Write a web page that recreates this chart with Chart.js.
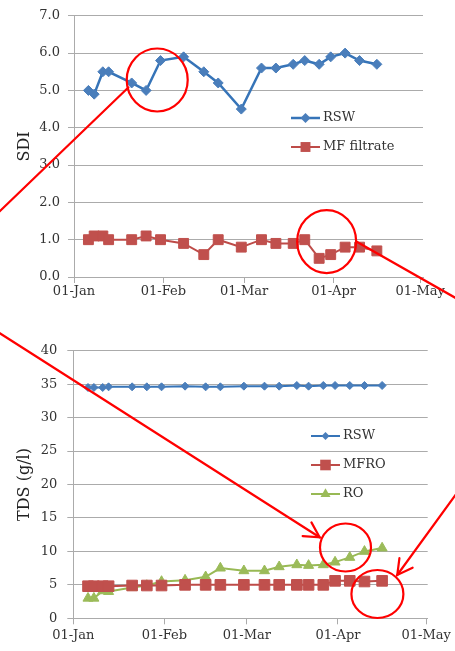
<!DOCTYPE html>
<html><head><meta charset="utf-8">
<script src="https://cdn.jsdelivr.net/npm/chart.js@4"></script>
<style>
html,body{margin:0;padding:0;background:#fff;}
#wrap{position:relative;width:455px;height:651px;overflow:hidden;background:#fff;}
#c1{position:absolute;left:0;top:0;width:455px;height:310px;}
#c2{position:absolute;left:0;top:320px;width:455px;height:331px;}
#ov{position:absolute;left:0;top:0;width:455px;height:651px;pointer-events:none;}
</style></head><body>
<div id="wrap">
<canvas id="c1" width="455" height="310"></canvas>
<canvas id="c2" width="455" height="331"></canvas>
<canvas id="ov" width="455" height="651"></canvas>
</div>
<script>
// ---- data ----
const monthDays = [0, 31, 59, 90, 120];
const monthLabels = ['01-Jan', '01-Feb', '01-Mar', '01-Apr', '01-May'];
// sampling days (days after 01-Jan)
const sampleDays = [5, 7, 10, 12, 20, 25, 30, 38, 45, 50, 58, 65, 70, 76, 80, 85, 89, 94, 99, 105];

const sdiTicks = [0, 1, 2, 3, 4, 5, 6, 7];
const sdiTickLabels = ['0.0', '1.0', '2.0', '3.0', '4.0', '5.0', '6.0', '7.0'];
const sdiRSW = [5.0, 4.9, 5.5, 5.5, 5.2, 5.0, 5.8, 5.9, 5.5, 5.2, 4.5, 5.6, 5.6, 5.7, 5.8, 5.7, 5.9, 6.0, 5.8, 5.7];
const sdiMF = [1.0, 1.1, 1.1, 1.0, 1.0, 1.1, 1.0, 0.9, 0.6, 1.0, 0.8, 1.0, 0.9, 0.9, 1.0, 0.5, 0.6, 0.8, 0.8, 0.7];

const tdsTicks = [0, 5, 10, 15, 20, 25, 30, 35, 40];
const tdsTickLabels = ['0', '5', '10', '15', '20', '25', '30', '35', '40'];
const tdsRSW = [34.5, 34.5, 34.5, 34.6, 34.6, 34.6, 34.6, 34.7, 34.6, 34.6, 34.7, 34.7, 34.7, 34.8, 34.7, 34.8, 34.8, 34.8, 34.8, 34.8];
const tdsMFRO = [4.8, 4.8, 4.8, 4.8, 4.9, 4.9, 4.9, 5.0, 5.0, 5.0, 5.0, 5.0, 5.0, 5.0, 5.0, 5.0, 5.6, 5.6, 5.5, 5.6];
const tdsRO = [3.0, 3.0, 4.1, 4.0, 4.6, 4.9, 5.5, 5.7, 6.2, 7.5, 7.1, 7.1, 7.7, 8.0, 7.9, 8.0, 8.4, 9.1, 10.0, 10.5];

// annotation marks (in each chart's data coordinates)
const topEllipses = [{d: 28.85, v: 5.28}, {d: 87.6, v: 0.95}];
const topLines = [{from: [-26, 1.745], to: [18.83, 5.08]}, {from: [98.02, 0.943], to: [140, -0.9]}];
const botEllipses = [{d: 92.55, v: 10.58}, {d: 103.4, v: 3.63}];
const botArrows = [{from: [-26, 42.9], to: [83.75, 12.11]}, {from: [134, 20.9], to: [110.15, 6.47]}];

// ---- styles ----
const BLUE = '#4A7EBB', BLUE_LINE = '#3674B8', RED = '#C0504D', GREEN = '#9BBB59';
const GRID = '#ABABAB', TXT = '#333333';
Chart.defaults.font.family = "'DejaVu Serif', serif";
Chart.defaults.color = TXT;

function pts(vals) { return vals.map((v, i) => ({x: sampleDays[i], y: v})); }
function ds(label, vals, color, lineColor, style, r, bw) {
  return {label, data: pts(vals), borderColor: lineColor, backgroundColor: color,
    pointBackgroundColor: color, pointBorderColor: color, pointBorderWidth: 1,
    pointStyle: style, pointRadius: r, borderWidth: bw, tension: 0, fill: false};
}

function drawMarker(ctx, style, x, y, r, color) {
  ctx.save(); ctx.fillStyle = color; ctx.beginPath();
  if (style === 'rectRot') { ctx.moveTo(x - r, y); ctx.lineTo(x, y - r); ctx.lineTo(x + r, y); ctx.lineTo(x, y + r); }
  else if (style === 'rect') { const s = r * Math.SQRT1_2; ctx.rect(x - s, y - s, 2 * s, 2 * s); }
  else if (style === 'triangle') { ctx.moveTo(x, y - r); ctx.lineTo(x + r * 0.866, y + r * 0.5); ctx.lineTo(x - r * 0.866, y + r * 0.5); }
  ctx.closePath(); ctx.fill(); ctx.restore();
}

const legendPlugin = {
  id: 'customLegend',
  afterDraw(chart, args, opts) {
    const ctx = chart.ctx;
    chart.data.datasets.forEach((d, i) => {
      const y = opts.ys[i];
      ctx.save();
      ctx.strokeStyle = d.borderColor; ctx.lineWidth = d.borderWidth;
      ctx.beginPath(); ctx.moveTo(opts.x0, y); ctx.lineTo(opts.x1, y); ctx.stroke();
      drawMarker(ctx, d.pointStyle, (opts.x0 + opts.x1) / 2, y, d.pointRadius, d.pointBackgroundColor);
      ctx.fillStyle = TXT; ctx.font = "13px 'DejaVu Serif'"; ctx.textBaseline = 'middle'; ctx.textAlign = 'left';
      ctx.fillText(d.label, opts.tx, y);
      ctx.restore();
    });
  }
};

function makeOptions(c) {
  return {
    responsive: false, animation: false, events: [],
    layout: {padding: {left: 0, right: c.right, top: c.top, bottom: 0}},
    plugins: {legend: {display: false}, tooltip: {enabled: false}, customLegend: c.legend},
    scales: {
      x: {type: 'linear', min: 0, max: c.xMax,
        afterBuildTicks: s => { s.ticks = monthDays.map(v => ({value: v})); },
        afterFit: s => { s.height = c.xH; },
        ticks: {callback: v => monthLabels[monthDays.indexOf(v)], autoSkip: false, maxRotation: 0,
          padding: c.xPad, color: TXT, font: {size: 13}},
        grid: {drawOnChartArea: false, drawTicks: true, tickLength: 6, color: GRID},
        border: {color: GRID}
      },
      y: {type: 'linear', min: 0, max: c.yMax,
        afterBuildTicks: s => { s.ticks = c.yTicks.map(v => ({value: v})); },
        afterFit: s => { s.width = c.yW; },
        ticks: {callback: v => c.yLabels[c.yTicks.indexOf(v)], padding: c.yPad, color: TXT, font: {size: 13}},
        grid: {color: GRID, tickLength: 6},
        border: {color: GRID},
        title: {display: true, text: c.title, color: '#222', font: {size: 16}, padding: {top: 15, bottom: 0}}
      }
    }
  };
}

const chart1 = new Chart(document.getElementById('c1'), {
  type: 'line',
  data: {datasets: [
    ds('RSW', sdiRSW, BLUE, BLUE_LINE, 'rectRot', 5, 2.5),
    ds('MF filtrate', sdiMF, RED, '#BE4B48', 'rect', 7, 2)
  ]},
  options: makeOptions({right: 32, top: 15, xMax: 121, xH: 33, xPad: 1, yMax: 7, yW: 74, yPad: 8,
    yTicks: sdiTicks, yLabels: sdiTickLabels, title: 'SDI',
    legend: {x0: 291, x1: 320, tx: 323, ys: [118, 147]}}),
  plugins: [legendPlugin]
});

const chart2 = new Chart(document.getElementById('c2'), {
  type: 'line',
  data: {datasets: [
    ds('RSW', tdsRSW, BLUE, BLUE_LINE, 'rectRot', 4, 2),
    ds('MFRO', tdsMFRO, RED, '#BE4B48', 'rect', 7.5, 2),
    ds('RO', tdsRO, GREEN, '#98B954', 'triangle', 5.8, 2)
  ]},
  options: makeOptions({right: 24.3, top: 30.7, xMax: 120.5, xH: 32.7, xPad: 4, yMax: 40, yW: 73.3, yPad: 10,
    yTicks: tdsTicks, yLabels: tdsTickLabels, title: 'TDS (g/l)',
    legend: {x0: 311, x1: 340, tx: 343, ys: [116, 145, 174]}}),
  plugins: [legendPlugin]
});

// ---- red annotation overlay ----
function toPage(chart, topOff, d, v) {
  return [chart.scales.x.getPixelForValue(d), chart.scales.y.getPixelForValue(v) + topOff];
}
function drawOverlay() {
  const ov = document.getElementById('ov');
  const ctx = ov.getContext('2d');
  ctx.clearRect(0, 0, ov.width, ov.height);
  ctx.strokeStyle = '#FF0000'; ctx.lineWidth = 2.2; ctx.lineCap = 'round';
  const ell = (chart, off, e, rx, ry) => {
    const [x, y] = toPage(chart, off, e.d, e.v);
    ctx.beginPath(); ctx.ellipse(x, y, rx, ry, 0, 0, Math.PI * 2); ctx.stroke();
  };
  ell(chart1, 0, topEllipses[0], 30.5, 31.5);
  ell(chart1, 0, topEllipses[1], 29.5, 31.5);
  ell(chart2, 320, botEllipses[0], 25.5, 24);
  ell(chart2, 320, botEllipses[1], 26, 24);
  const seg = (chart, off, l, head) => {
    const [x1, y1] = toPage(chart, off, l.from[0], l.from[1]);
    const [x2, y2] = toPage(chart, off, l.to[0], l.to[1]);
    ctx.beginPath(); ctx.moveTo(x1, y1); ctx.lineTo(x2, y2); ctx.stroke();
    if (head) {
      const a = Math.atan2(y1 - y2, x1 - x2), L = 17, w = 0.5;
      ctx.beginPath();
      ctx.moveTo(x2 + L * Math.cos(a + w), y2 + L * Math.sin(a + w));
      ctx.lineTo(x2, y2);
      ctx.lineTo(x2 + L * Math.cos(a - w), y2 + L * Math.sin(a - w));
      ctx.stroke();
    }
  };
  topLines.forEach(l => seg(chart1, 0, l, false));
  botArrows.forEach(l => seg(chart2, 320, l, true));
}
drawOverlay();
</script>
</body></html>
